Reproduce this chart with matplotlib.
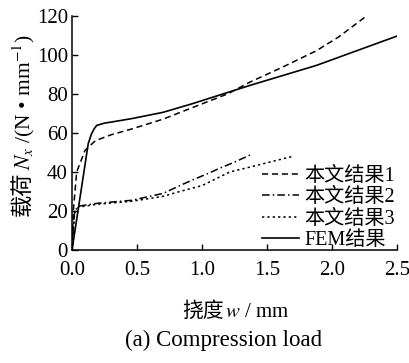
import matplotlib
matplotlib.use("Agg")
import matplotlib.pyplot as plt

plt.rcParams['font.family'] = ['Liberation Serif', 'Noto Sans CJK SC']
plt.rcParams['mathtext.fontset'] = 'stix'

# curve data
w1 = [0, 0.01, 0.036, 0.1, 0.18, 0.3, 0.46, 0.7, 0.93, 1.2, 1.37, 1.6, 1.88, 2.05, 2.27]
n1 = [0, 20, 40, 51, 56, 59, 62, 67, 73, 80, 86, 93, 102, 109, 120]

w2 = [0, 0.02, 0.05, 0.2, 0.46, 0.7, 0.83, 0.93, 1.04, 1.14, 1.25, 1.38]
n2 = [0, 20, 22.5, 24, 25.5, 29, 33, 36, 39, 42, 45, 49]

w3 = [0, 0.02, 0.05, 0.2, 0.46, 0.7, 0.83, 1.0, 1.215, 1.37, 1.52, 1.7]
n3 = [0, 19, 22, 23.5, 25, 27.5, 30, 33, 40, 42.5, 45, 48]

wf = [0, 0.125, 0.15, 0.17, 0.19, 0.25, 0.3, 0.46, 0.7, 0.93, 1.37, 1.88, 2.5]
nf = [0, 54.5, 59.5, 62, 63.8, 65, 65.5, 67.3, 70.5, 75, 84.3, 94.5, 109.5]

labels = ['本文结果1', '本文结果2', '本文结果3', 'FEM结果']
xticks = [0.0, 0.5, 1.0, 1.5, 2.0, 2.5]
yticks = [0, 20, 40, 60, 80, 100, 120]

fs = 15
fig = plt.figure(figsize=(4.10, 3.63), dpi=100)
ax = fig.add_axes([0.1756, 0.311, 0.7924, 0.646])

lw = 1.1
ax.plot(w1, n1, color='black', lw=lw, linestyle=(0, (4, 2.5)), label=labels[0])
ax.plot(w2, n2, color='black', lw=lw, linestyle=(0, (5, 2, 1, 2)), label=labels[1])
ax.plot(w3, n3, color='black', lw=lw, linestyle=(0, (1.5, 2)), label=labels[2])
ax.plot(wf, nf, color='black', lw=1.2, linestyle='-', label=labels[3])

ax.set_xlim(0, 2.5)
ax.set_ylim(0, 120)
ax.set_xticks(xticks)
ax.set_xticklabels(['%.1f' % v for v in xticks])
ax.set_yticks(yticks)
ax.spines['top'].set_visible(False)
ax.spines['right'].set_visible(False)
for s in ['left', 'bottom']:
    ax.spines[s].set_linewidth(1.1)
ax.tick_params(direction='in', length=4, width=1.0, labelsize=fs)
ax.tick_params(axis='x', pad=7.5)
ax.tick_params(axis='y', pad=3)

leg = ax.legend(loc='lower right', bbox_to_anchor=(1.02, -0.035), frameon=False,
                fontsize=14.5, handlelength=1.8, handletextpad=0.3,
                labelspacing=0.12, borderaxespad=0)

# labels mixing CJK text and math: built from pieces, placed one after another
fig.canvas.draw()
r = fig.canvas.get_renderer()
W, H = fig.bbox.width, fig.bbox.height

# x label, centred at x=235 px
a = fig.text(0, 0, '挠度', fontsize=fs, family='Noto Sans CJK SC', va='baseline')
b = fig.text(0, 0, '$w$ / mm', fontsize=fs, va='baseline')
wa = a.get_window_extent(r).width
wb = b.get_window_extent(r).width
x0 = 235 - (wa + wb) / 2
yb = 1 - 317 / H
a.set_position((x0 / W, yb))
b.set_position(((x0 + wa + 1) / W, yb))

# y label, rotated, reading upward from y=216 px
c = fig.text(0, 0, '载荷', fontsize=16, family='Noto Sans CJK SC', rotation=90,
             ha='center', va='bottom')
d = fig.text(0, 0, '$N_x$ /(N • mm$^{-1}$)', fontsize=15.5, rotation=90,
             ha='center', va='bottom')
hc = c.get_window_extent(r).height
xc = 22 / W
c.set_position((xc, 1 - 216 / H))
d.set_position((xc + 2 / W, 1 - (216 - hc - 1) / H))

fig.text(224 / W, 1 - 340 / H, '(a) Compression load', ha='center', va='center',
         fontsize=16.5)

fig.savefig('out.png', dpi=100)
